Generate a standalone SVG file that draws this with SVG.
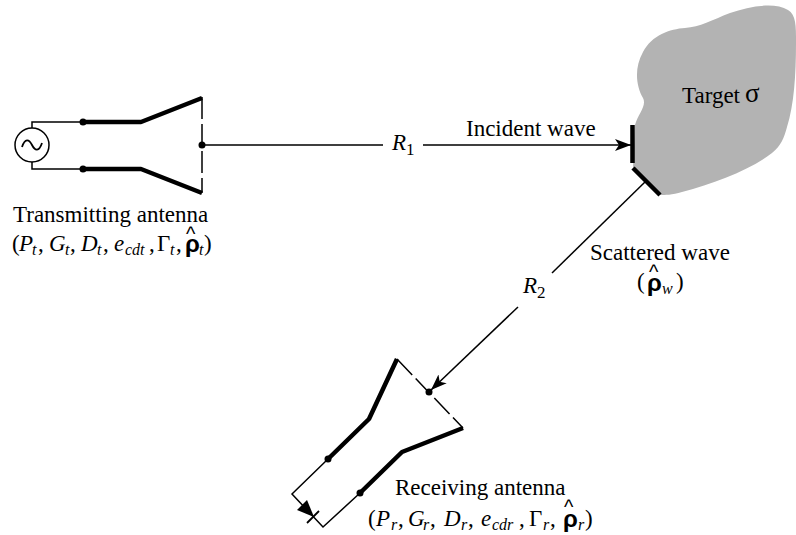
<svg xmlns="http://www.w3.org/2000/svg" width="796" height="535" viewBox="0 0 796 535">
<style>
text{font-family:"Liberation Serif","Times New Roman",serif;font-size:23px;fill:#000}
.i{font-style:italic}
.s{font-size:16px;font-style:italic}
.n{font-size:17px;font-style:normal}
.r{font-family:"Liberation Sans",Arial,sans-serif;font-weight:bold;font-size:24px}
.h{font-family:"Liberation Sans",Arial,sans-serif;font-size:20px}
.thin{fill:none;stroke:#000;stroke-width:1.5}
.thick{fill:none;stroke:#000;stroke-width:4.500;stroke-linejoin:bevel}
.dash{fill:none;stroke:#000;stroke-width:1.5;stroke-dasharray:22 5}
</style>
<defs>
<marker id="arr" markerUnits="userSpaceOnUse" markerWidth="18" markerHeight="14" refX="16" refY="7" orient="auto"><path d="M0 1L16 7L0 13L4 7Z" fill="#000"/></marker>
</defs>
<g id="target">
<path d="M635 125C638 114 647 106 643 98C636 86 634 68 643 52C652 35 670 29 685 28C700 27 712 20 730 13C750 6 775 2 788 10C796 15 796 25 796 43C796 75 794 105 787 127C784 138 781 146 772 153C750 170 715 183 682 192C672 195 665 195 660 195L633 168Z" fill="#b3b3b3"/>
<path class="thick" d="M632.500 125V163M633 168L660 195"/>
<text x="682" y="103">Target<tspan x="745" y="102" style="font-size:27px">σ</tspan></text>
</g>
<g id="transmitting-antenna">
<circle class="thin" cx="32" cy="145" r="17"/>
<path d="M22 147C25 138 29 139 32 145C35 151 39 152 42 143" fill="none" stroke="#000" stroke-width="1.800"/>
<path class="thin" d="M32 128V122H83M32 162V169H83"/>
<path class="thick" d="M83 122H141L202 98M83 169H141L202 193"/>
<path class="dash" d="M202 97V193"/>
<circle cx="83" cy="122" r="3.500"/><circle cx="83" cy="169" r="3.500"/><circle cx="202" cy="145" r="3.500"/>
<text x="13" y="222">Transmitting antenna</text>
<text x="12" y="251">(<tspan class="i" x="19">P</tspan><tspan class="s" x="32" y="255">t</tspan><tspan x="38" y="251">,</tspan><tspan class="i" x="49">G</tspan><tspan class="s" x="65" y="255">t</tspan><tspan x="70" y="251">,</tspan><tspan class="i" x="81">D</tspan><tspan class="s" x="97" y="255">t</tspan><tspan x="103" y="251">,</tspan><tspan class="i" x="114">e</tspan><tspan class="s" x="125" y="255">cdt</tspan><tspan x="149" y="251">,</tspan><tspan x="157">Γ</tspan><tspan class="s" x="170" y="255">t</tspan><tspan x="176" y="251">,</tspan><tspan class="r" x="185" y="252">ρ</tspan><tspan class="h" x="186" y="241">^</tspan><tspan class="s" x="199" y="255">t</tspan><tspan x="204" y="251">)</tspan></text>
</g>
<g id="receiving-antenna">
<path class="thick" d="M397 359L369 419L328 459M463 428L402 452L360 493"/>
<path class="dash" d="M397 359L463 428"/>
<path class="thin" d="M328 459L292 494L323 527L360 493"/>
<path d="M297 510L307 500L314 517Z" fill="#000"/>
<path d="M307 523L319 511" stroke="#000" stroke-width="1.800"/>
<circle cx="328" cy="459" r="3.500"/><circle cx="360" cy="493" r="3.500"/><circle cx="429" cy="392" r="3.500"/>
<text x="395" y="495">Receiving antenna</text>
<text x="368" y="526">(<tspan class="i" x="376">P</tspan><tspan class="s" x="391" y="530">r</tspan><tspan x="398" y="526">,</tspan><tspan class="i" x="408">G</tspan><tspan class="s" x="423" y="530">r</tspan><tspan x="430" y="526">,</tspan><tspan class="i" x="444">D</tspan><tspan class="s" x="461" y="530">r</tspan><tspan x="468" y="526">,</tspan><tspan class="i" x="481">e</tspan><tspan class="s" x="492" y="530">cdr</tspan><tspan x="519" y="526">,</tspan><tspan x="529">Γ</tspan><tspan class="s" x="543" y="530">r</tspan><tspan x="550" y="526">,</tspan><tspan class="r" x="563" y="527">ρ</tspan><tspan class="h" x="564" y="514">^</tspan><tspan class="s" x="578" y="530">r</tspan><tspan x="585" y="526">)</tspan></text>
</g>
<g id="connectors">
<path class="thin" d="M202 145H383M423 145H631" marker-end="url(#arr)"/>
<path class="thin" d="M646 181L552 273"/>
<path class="thin" d="M518 307L431 390" marker-end="url(#arr)"/>
</g>
<g id="labels">
<text class="i" x="392" y="150">R<tspan class="n" dy="5">1</tspan></text>
<text x="466" y="136">Incident wave</text>
<text class="i" x="523" y="293">R<tspan class="n" dy="5">2</tspan></text>
<text x="590" y="260">Scattered wave</text>
<text x="637" y="289">(<tspan class="r" x="647" y="291">ρ</tspan><tspan class="h" x="649" y="279">^</tspan><tspan class="s" x="662" y="294">w</tspan><tspan x="676" y="289">)</tspan></text>
</g>
</svg>
